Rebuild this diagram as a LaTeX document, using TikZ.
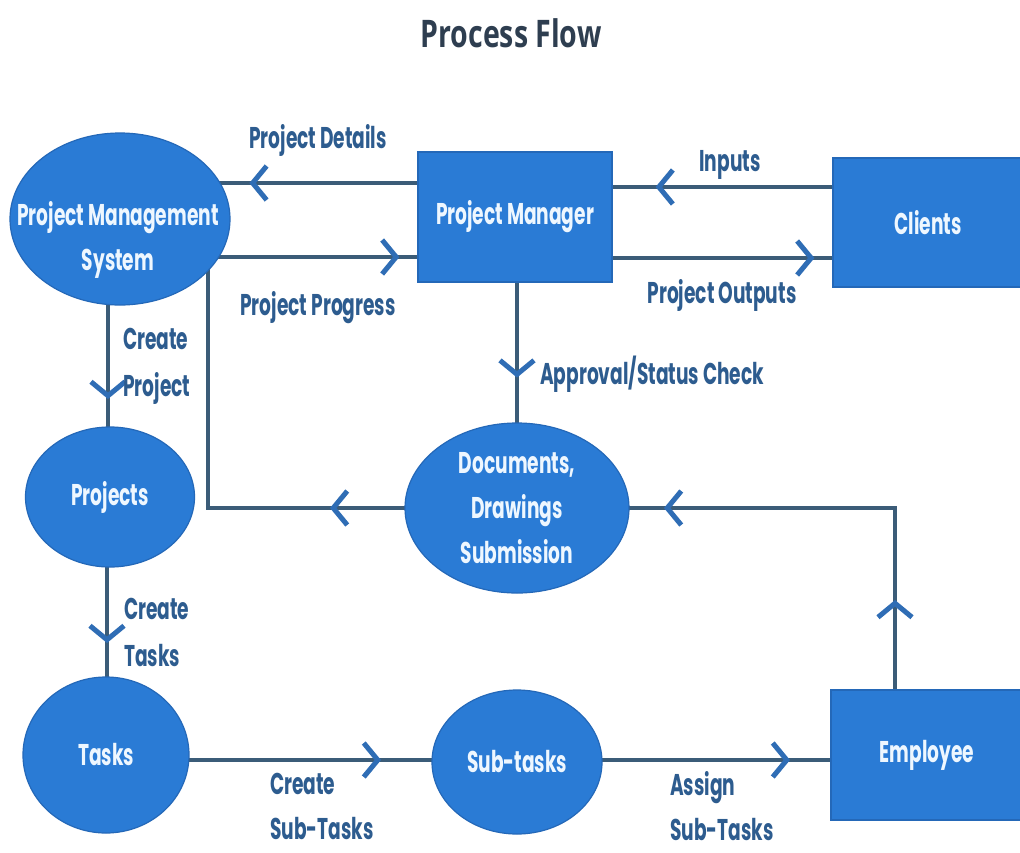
\documentclass[tikz,border=0pt]{standalone}
\usepackage{fontspec}
\setmainfont{Poppins}[FakeStretch=0.62]
\newfontfamily\titlefont{Open Sans}[FakeStretch=0.75]
\usetikzlibrary{shapes.geometric,arrows.meta,decorations.markings,backgrounds}
\definecolor{nodeblue}{HTML}{2A7BD5}
\definecolor{rimblue}{HTML}{2468B8}
\definecolor{linegray}{HTML}{3B5C78}
\definecolor{chevblue}{HTML}{2F6DB5}
\definecolor{labelblue}{HTML}{2D5C8F}
\definecolor{titlegray}{HTML}{2E3E50}
\definecolor{nodetext}{HTML}{EEF7FF}
\tikzset{
  nodefont/.style={font=\bfseries\fontsize{30}{45}\selectfont},
  oval/.style={ellipse, fill=nodeblue, draw=rimblue, line width=1.2pt, inner sep=0pt,
    text=nodetext, nodefont, align=center},
  boxnode/.style={rectangle, fill=nodeblue, draw=rimblue, line width=1.2pt, inner sep=0pt,
    text=nodetext, nodefont, align=center},
  txt/.style={text=nodetext, nodefont, align=center, inner sep=0pt},
  lbl/.style={text=labelblue, font=\bfseries\fontsize{30}{47}\selectfont, inner sep=0pt},
  conn/.style={draw=linegray, line width=4pt},
  chev/.tip={Straight Barb[length=14pt, width=34pt, line width=5pt, color=chevblue]},
  mk/.style={postaction={decorate}, decoration={markings, mark=at position #1 with {\arrow{chev}}}},
  mktwo/.style 2 args={postaction={decorate}, decoration={markings,
     mark=at position #1 with {\arrow{chev}}, mark=at position #2 with {\arrow{chev}}}},
}
\begin{document}
\begin{tikzpicture}[x=1pt, y=-1pt]
\useasboundingbox (0,0) rectangle (1020,852);

\node[text=titlegray, font=\titlefont\bfseries\fontsize{38}{44}\selectfont] (title) at (511,33) {Process Flow};

% nodes
\node[oval, minimum width=220pt, minimum height=172pt] (pms) at (120,219) {};
\node[txt] (pmstext) at (118,240) {Project Management\\System};
\node[boxnode, minimum width=194pt, minimum height=130pt] (pm) at (515,217) {Project Manager};
\node[boxnode, minimum width=190pt, minimum height=129pt] (cl) at (928,222.5) {Clients};
\node[oval, minimum width=169pt, minimum height=140pt] (projects) at (110,497) {Projects};
\node[oval, minimum width=224pt, minimum height=170pt] (docs) at (517,508) {Documents,\\Drawings\\Submission};
\node[oval, minimum width=166pt, minimum height=156pt] (tasks) at (106,755) {Tasks};
\node[oval, minimum width=170pt, minimum height=144pt] (sub) at (517,762) {Sub-tasks};
\node[boxnode, minimum width=192pt, minimum height=130pt] (emp) at (927,755) {Employee};

% connectors
\begin{pgfonlayer}{background}
\fill[white] (0,0) rectangle (1020,852);
\draw[conn, mk=168pt] (pm.west |- 0,183) -- (pms.center |- 0,183);
\draw[conn, mk=-18pt] (pms.center |- 0,257) -- (pm.west |- 0,257);
\draw[conn, mk=-43pt] (cl.west |- 0,187) -- (pm.east |- 0,187);
\draw[conn, mk=-18pt] (pm.east |- 0,258) -- (cl.west |- 0,258);
\draw[conn, mk=95pt] (docs.center |- pm.south) -- (docs.center);
\draw[conn, mk=180pt] (pms.center -| 108,0) -- (projects.center -| 108,0);
\draw[conn, mk=187pt] (docs.center) -| (pms.center -| 208,0);
\draw[conn, mktwo={155pt}{-147pt}] (emp.center -| 895,0) |- (docs.center);
\draw[conn, mk=146pt] (projects.center -| 107,0) -- (tasks.center -| 107,0);
\draw[conn, mk=275pt] (tasks.center |- 0,760) -- (sub.center |- 0,760);
\draw[conn, mk=273pt] (sub.center |- 0,760) -- (emp.center |- 0,760);
\end{pgfonlayer}

% labels
\node[lbl] (l1) at (318,140) {Project Details};
\node[lbl] (l2) at (318,308) {Project Progress};
\node[lbl] (l3) at (730,165) {Inputs};
\node[lbl] (l4) at (722,295) {Project Outputs};
\node[lbl, anchor=west] (l5) at (540,374) {Approval/Status Check};
\node[lbl, anchor=west, align=left] (l6) at (123,366) {Create\\Project};
\node[lbl, anchor=west, align=left] (l7) at (124,632) {Create\\Tasks};
\node[lbl, anchor=west, align=left, font=\bfseries\fontsize{30}{45}\selectfont] (l8) at (270,806) {Create\\Sub-Tasks};
\node[lbl, anchor=west, align=left, font=\bfseries\fontsize{30}{45}\selectfont] (l9) at (670,806) {Assign\\Sub-Tasks};
\end{tikzpicture}
\end{document}
